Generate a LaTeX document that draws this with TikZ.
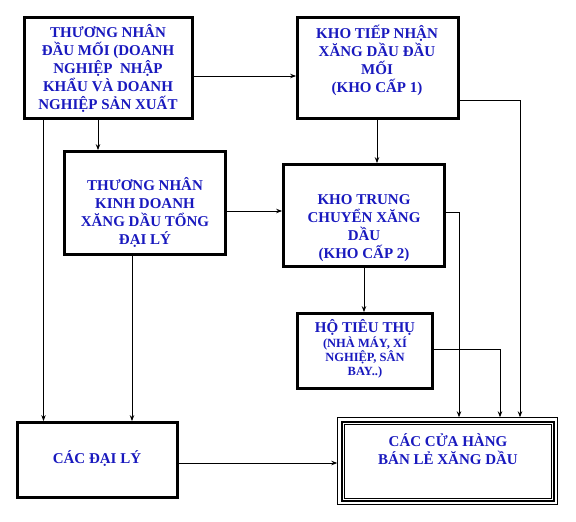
\documentclass[tikz,border=0pt]{standalone}
\usepackage{fontspec}
\setmainfont{Liberation Serif}
\usetikzlibrary{calc,arrows.meta,fit}
\definecolor{chuxanh}{RGB}{25,25,190}
\newcommand{\chunho}{\bfseries\fontsize{12.5}{13.5}\selectfont}
\newcommand{\chuto}{\bfseries\fontsize{15}{18}\selectfont}
\begin{document}
\begin{tikzpicture}[x=1pt,y=-1pt,line join=miter,>={Stealth[length=6pt,width=4.5pt]}]
	\tikzset{
		hop/.style={draw,line width=2.8pt,inner sep=0pt},
		chu/.style={text=chuxanh,font=\chuto,align=center,inner sep=0pt},
		noi/.style={line width=0.9pt}
	}
	\useasboundingbox (0,0) rectangle (576,522);
	% Các hộp
	\node[hop,minimum width=168pt,minimum height=101pt] (TN) at (108.5,68) {};
	\node[hop,minimum width=161pt,minimum height=101pt] (KTN) at (378,68) {};
	\node[hop,minimum width=161pt,minimum height=103pt] (TNKD) at (145,203) {};
	\node[hop,minimum width=161pt,minimum height=102pt] (KTC) at (364,215.5) {};
	\node[hop,minimum width=135pt,minimum height=75pt] (HTT) at (365,351) {};
	\node[hop,minimum width=160pt,minimum height=75pt] (DL) at (97.5,460) {};
	% hộp khung ba nét
	\node[hop,line width=2pt,minimum width=212pt,minimum height=79pt] (CH) at (447.5,461) {};
	\node[draw,line width=0.8pt,fit=(CH),inner sep=2.8pt] (CHo) {};
	\draw[line width=0.8pt] ([shift={(3.6pt,-3.6pt)}]CH.north west) rectangle ([shift={(-3.6pt,3.6pt)}]CH.south east);
	% Chữ
	\node[chu] (TNt) at (108,68.5) {THƯƠNG NHÂN\\ĐẦU MỐI (DOANH\\NGHIỆP\ \ NHẬP\\KHẨU VÀ DOANH\\NGHIỆP SẢN XUẤT};
	\node[chu] (KTNt) at (377,60) {KHO TIẾP NHẬN\\XĂNG DẦU ĐẦU\\MỐI\\(KHO CẤP 1)};
	\node[chu] (TNKDt) at (145,212) {THƯƠNG NHÂN\\KINH DOANH\\XĂNG DẦU TỔNG\\ĐẠI LÝ};
	\node[chu] (KTCt) at (364,228) {KHO TRUNG\\CHUYỂN XĂNG\\DẦU\\(KHO CẤP 2)};
	\node[chu,font=\chunho] (HTTt) at (365,348.5) {{\chuto HỘ TIÊU THỤ}\\[0.5pt](NHÀ MÁY, XÍ\\NGHIỆP, SÂN\\BAY..)};
	\node[chu] (DLt) at (97,459) {CÁC ĐẠI LÝ};
	\node[chu] (CHt) at (448,449) {CÁC CỬA HÀNG\\BÁN LẺ XĂNG DẦU};
	% Mũi tên
	\draw[noi,->] ([yshift=-8pt]TN.east) -- ([yshift=-8pt]TN.east -| KTN.west);
	\draw[noi,->] ([xshift=-65pt]TN.south) -- ([xshift=-65pt]TN.south |- DL.north);
	\draw[noi,->] ([xshift=-47pt]TNKD.north |- TN.south) -- ([xshift=-47pt]TNKD.north);
	\draw[noi,->] ([xshift=-13pt]TNKD.south) -- ([xshift=-13pt]TNKD.south |- DL.north);
	\draw[noi,->] ([yshift=-8pt]TNKD.east) -- ([yshift=-8pt]TNKD.east -| KTC.west);
	\draw[noi,->] ([xshift=-1pt]KTN.south) -- ([xshift=-1pt]KTN.south |- KTC.north);
	\draw[noi,->] (KTC.south) -- (KTC.south |- HTT.north);
	\draw[noi,->] ([yshift=-32pt]KTN.east) -| ([xshift=72.5pt]CHo.north);
	\draw[noi,->] ([yshift=3pt]KTC.east) -| ([xshift=11.5pt]CHo.north);
	\draw[noi,->] ([yshift=2pt]HTT.east) -| ([xshift=52.5pt]CHo.north);
	\draw[noi,->] ([yshift=-3pt]DL.east) -- ([yshift=-3pt]DL.east -| CHo.west);
\end{tikzpicture}
\end{document}
